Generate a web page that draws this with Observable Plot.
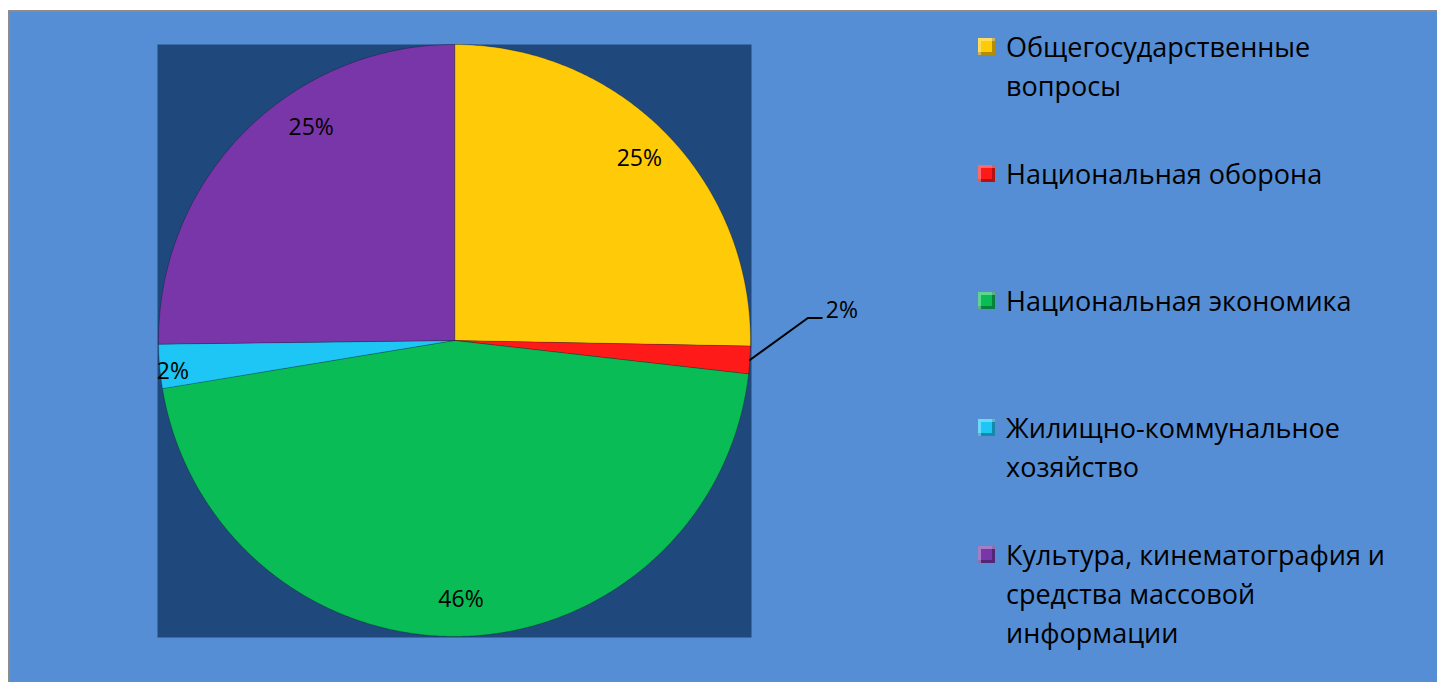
<!DOCTYPE html>
<html><head><meta charset="utf-8">
<script src="https://cdn.jsdelivr.net/npm/d3@7"></script>
<script src="https://cdn.jsdelivr.net/npm/@observablehq/plot@0.6"></script>
<style>
html,body{margin:0;padding:0;background:#fff;width:1437px;height:682px;overflow:hidden;font-family:"Open Sans",sans-serif;}
#frame{position:absolute;left:8px;top:10px;width:1429px;height:672px;background:#558ED5;border-left:2px solid #8c8c8c;border-top:2px solid #8c8c8c;box-sizing:border-box;}
#chart{position:absolute;left:0;top:0;}
#legend{position:absolute;left:978px;top:27px;}
.item{height:127px;display:flex;align-items:flex-start;}
.sw{width:17px;height:17px;margin-top:11px;margin-right:11px;flex:none;box-sizing:border-box;
  box-shadow:inset 3px 3px 0 rgba(255,255,255,0.35), inset -3px -3px 0 rgba(0,0,0,0.3);}
.lab{font-size:27px;line-height:39px;width:405px;color:#000;}
</style></head>
<body>
<div id="frame"></div>
<div id="chart"></div>
<div id="legend"></div>
<script>
const categories = [
  "Общегосударственные вопросы",
  "Национальная оборона",
  "Национальная экономика",
  "Жилищно-коммунальное хозяйство",
  "Культура, кинематография и средства массовой информации"
];
const shares = [25.3, 1.5, 45.6, 2.4, 25.2];
const palette = ["#FFCA08", "#FF1A1A", "#0ABC55", "#1DC6F4", "#7936A9"];

const arcs = d3.pie().sort(null).value(d => d)(shares);

const slicePts = [];
arcs.forEach((a, i) => {
  const n = Math.max(3, Math.ceil((a.endAngle - a.startAngle) / (Math.PI / 360)));
  slicePts.push({cat: categories[i], x: 0, y: 0});
  for (let k = 0; k <= n; k++) {
    const t = a.startAngle + (a.endAngle - a.startAngle) * k / n;
    slicePts.push({cat: categories[i], x: Math.sin(t), y: Math.cos(t)});
  }
});

const labels = arcs.map((a, i) => {
  const mid = (a.startAngle + a.endAngle) / 2;
  const small = shares[i] < 2;
  const r = small ? 1 : shares[i] < 5 ? 0.955 : 0.875;
  return {i, cat: categories[i], text: Math.round(shares[i]) + "%",
          x: r * Math.sin(mid), y: r * Math.cos(mid), small};
});
const outside = labels.filter(d => d.small);
const leaders = [];
outside.forEach(d => {
  leaders.push({i: d.i, x: d.x, y: d.y});
  leaders.push({i: d.i, x: d.x + 0.196, y: d.y + 0.142});
  leaders.push({i: d.i, x: d.x + 0.243, y: d.y + 0.142});
});
const outsideText = outside.map(d => ({...d, x: d.x + 0.243, y: d.y + 0.142}));
const lastIdx = categories.length - 1;

const chart = Plot.plot({
  width: 900, height: 682,
  marginLeft: 157, marginTop: 44, marginRight: 149, marginBottom: 45,
  style: {background: "transparent", fontFamily: "'Open Sans', sans-serif", overflow: "visible"},
  x: {axis: null, domain: [-1.0034, 1.0034]},
  y: {axis: null, domain: [-1.0034, 1.0]},
  color: {domain: categories, range: palette},
  marks: [
    Plot.frame({fill: "#1F497D", stroke: "none"}),
    Plot.line(slicePts, {x: "x", y: "y", z: "cat", fill: "cat", stroke: "#000", strokeOpacity: 0.25, strokeWidth: 1, curve: "linear-closed"}),
    Plot.text(labels.filter(d => !d.small && d.i !== lastIdx && shares[d.i] >= 5), {x: "x", y: "y", text: "text", fontSize: 23, fill: "#000"}),
    Plot.text(labels.filter(d => !d.small && shares[d.i] < 5), {x: "x", y: "y", text: "text", fontSize: 23, fill: "#000", dy: 6}),
    Plot.text(labels.filter(d => !d.small && d.i === lastIdx), {x: "x", y: "y", text: "text", fontSize: 23, fill: "#000", dx: 41, dy: -31}),
    Plot.line(leaders, {x: "x", y: "y", z: "i", stroke: "#000", strokeWidth: 2}),
    Plot.text(outsideText, {x: "x", y: "y", text: "text", fontSize: 23, fill: "#000", textAnchor: "start", dx: 4, dy: -7})
  ]
});
document.getElementById("chart").appendChild(chart);

const color = chart.scale("color");
const legend = document.getElementById("legend");
categories.forEach((c, i) => {
  const item = document.createElement("div");
  item.className = "item";
  const sw = document.createElement("div");
  sw.className = "sw";
  sw.style.background = color.range[i];
  const lab = document.createElement("div");
  lab.className = "lab";
  lab.textContent = c;
  item.appendChild(sw); item.appendChild(lab);
  legend.appendChild(item);
});
</script>
</body></html>
